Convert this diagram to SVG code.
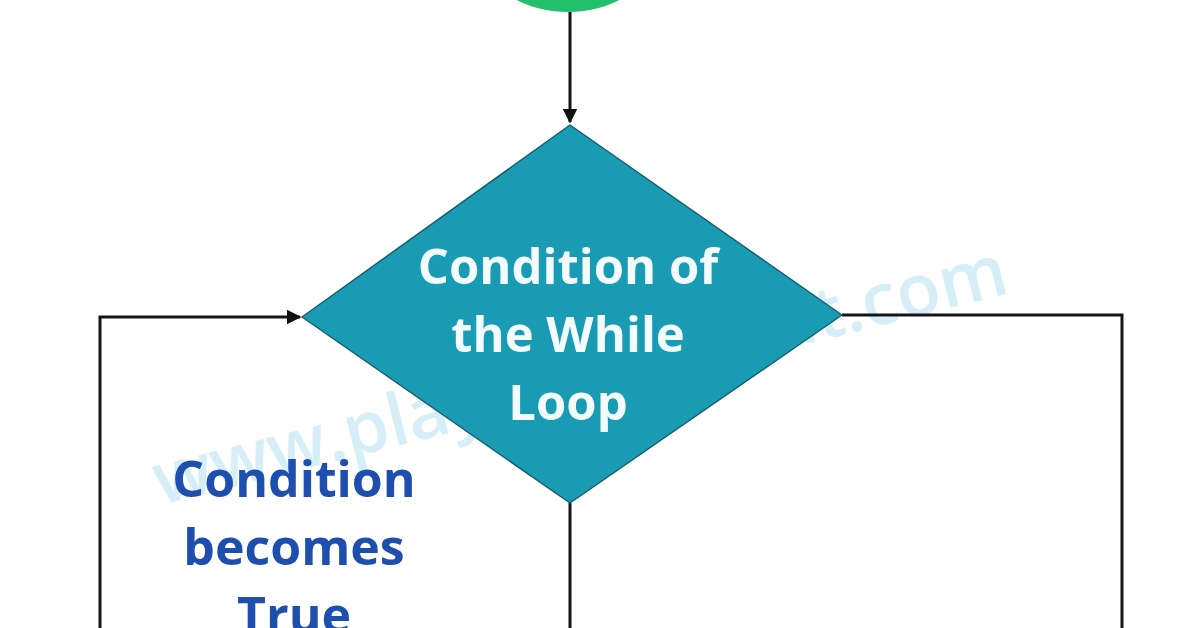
<svg xmlns="http://www.w3.org/2000/svg" width="1196" height="628" viewBox="0 0 1196 628">
  <defs>
    <marker id="arr" viewBox="0 0 10 10" refX="9" refY="5" markerWidth="5" markerHeight="5" orient="auto" markerUnits="strokeWidth">
      <path d="M0,0 L10,5 L0,10 z" fill="#111"/>
    </marker>
  </defs>
  <style>
    .conn { fill: none; stroke: #151515; stroke-width: 3; }
    .dtext { font-family: "Open Sans", "Noto Sans", sans-serif; font-weight: 700; font-size: 49px; fill: #f2fbfd; text-anchor: middle; }
    .label { font-family: "Open Sans", "Noto Sans", sans-serif; font-weight: 700; font-size: 50px; fill: #1f4fae; text-anchor: middle; }
    .wm { font-family: "Open Sans", "Noto Sans", sans-serif; font-weight: 600; font-size: 72px; fill: #d6eef7; }
  </style>
  <rect width="1196" height="628" fill="#ffffff"/>
  <text class="wm" x="160" y="505" transform="rotate(-14 160 505)">www.playtechcircuit.com</text>
  <g id="connectors">
    <path class="conn" d="M570,12 L570,122" marker-end="url(#arr)"/>
    <path class="conn" d="M100,628 L100,317 L300,317" marker-end="url(#arr)"/>
    <path class="conn" d="M842,315 L1122,315 L1122,628"/>
    <path class="conn" d="M570,503 L570,628"/>
  </g>
  <g id="start">
    <ellipse cx="568" cy="-40" rx="80" ry="52" fill="#22c06b"/>
  </g>
  <g id="condition">
    <polygon points="570,125 842,315 570,503 302,317" fill="#1a9bb4" stroke="#16606e" stroke-width="1.5" stroke-linejoin="round"/>
    <text class="dtext" x="568" y="284">Condition of</text>
    <text class="dtext" x="568" y="352">the While</text>
    <text class="dtext" x="568" y="420">Loop</text>
  </g>
  <g id="true-label">
    <text class="label" x="294" y="497">Condition</text>
    <text class="label" x="294" y="565">becomes</text>
    <text class="label" x="294" y="633">True</text>
  </g>
</svg>
